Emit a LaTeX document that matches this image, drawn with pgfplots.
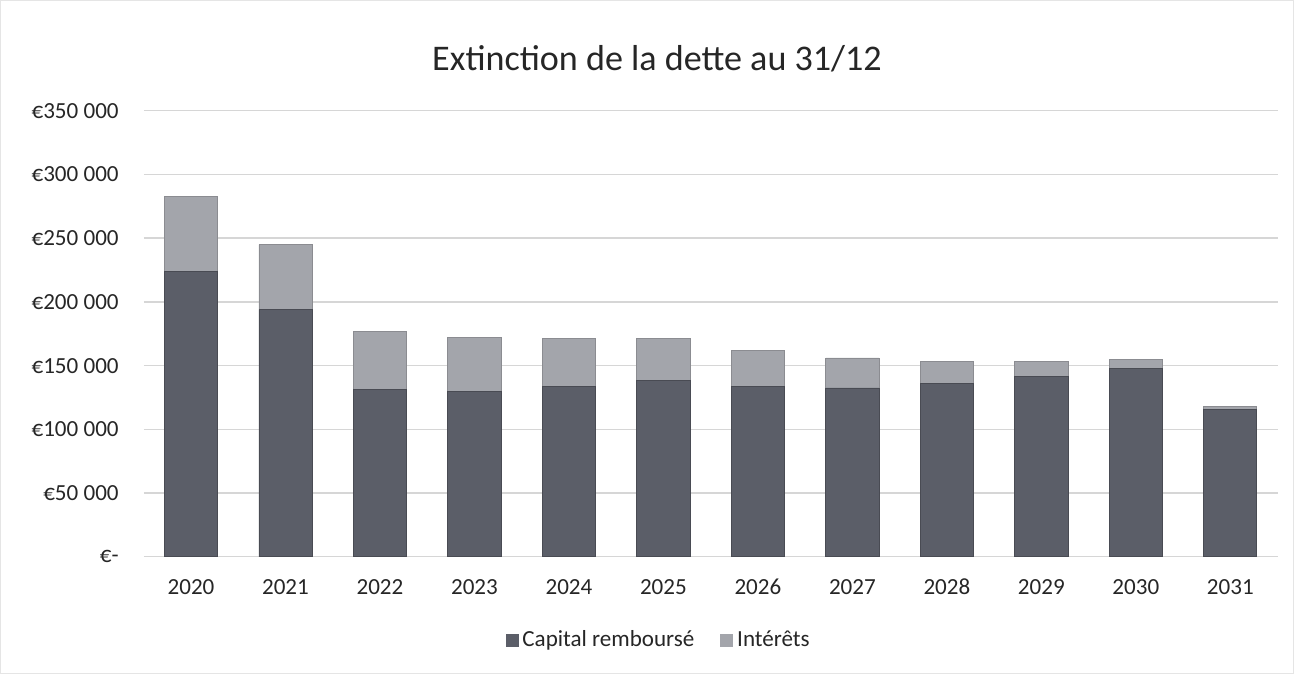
\documentclass[border=0pt]{standalone}
\usepackage{pgfplots}
\pgfplotsset{compat=1.18}
\usepackage{fontspec}
\setmainfont{Carlito}
\definecolor{capital}{HTML}{5B5E68}
\definecolor{interets}{HTML}{A3A5AB}
\definecolor{gridgray}{HTML}{D6D6D6}
\begin{document}
\begin{tikzpicture}
% chart frame (sets the picture size)
\draw[gray!20] (-71.5pt,-58pt) rectangle (573.5pt,277.5pt);
\begin{axis}[
  scale only axis, width=565.5pt, height=222.5pt,
  ybar stacked, bar width=26.5pt,
  xmin=-0.5, xmax=11.5, ymin=0, ymax=350000,
  scaled y ticks=false,
  xtick={0,...,11},
  xticklabels={2020,2021,2022,2023,2024,2025,2026,2027,2028,2029,2030,2031},
  ytick={0,50000,...,350000},
  yticklabels={€-,€50 000,€100 000,€150 000,€200 000,€250 000,€300 000,€350 000},
  axis line style={draw=none},
  tick style={draw=none},
  ymajorgrids, grid style={draw=gridgray, line width=0.7pt},
  ticklabel style={font=\fontsize{11.5}{13}\selectfont, text=black!85},
  yticklabel style={xshift=-9pt},
  xticklabel style={yshift=-8pt, text height=1.5ex, text depth=0.25ex},
  legend style={at={(0.455,-0.187)}, anchor=center, legend columns=2, draw=none,
    font=\fontsize{11.5}{13}\selectfont, text=black!85,
    /tikz/every even column/.append style={column sep=11pt}},
]
\addplot[fill=capital, draw=capital!80!black, line width=0.4pt,
  legend image code/.code={\fill[capital] (0pt,-3pt) rectangle (6pt,3pt);}]
  coordinates {(0,224000) (1,194000) (2,131000) (3,130000) (4,133500) (5,138500)
               (6,133500) (7,132500) (8,136000) (9,141500) (10,147500) (11,115500)};
\addplot[fill=interets, draw=interets!85!black, line width=0.4pt,
  legend image code/.code={\fill[interets] (0pt,-3pt) rectangle (6pt,3pt);}]
  coordinates {(0,59000) (1,51000) (2,46000) (3,42000) (4,37500) (5,33000)
               (6,28500) (7,23500) (8,17500) (9,12000) (10,7000) (11,2500)};
\legend{Capital remboursé, Intérêts}
\end{axis}
\node[font=\fontsize{18}{21}\selectfont, text=black!85] at (256pt,248.5pt) {Extinction de la dette au 31/12};
\end{tikzpicture}
\end{document}
